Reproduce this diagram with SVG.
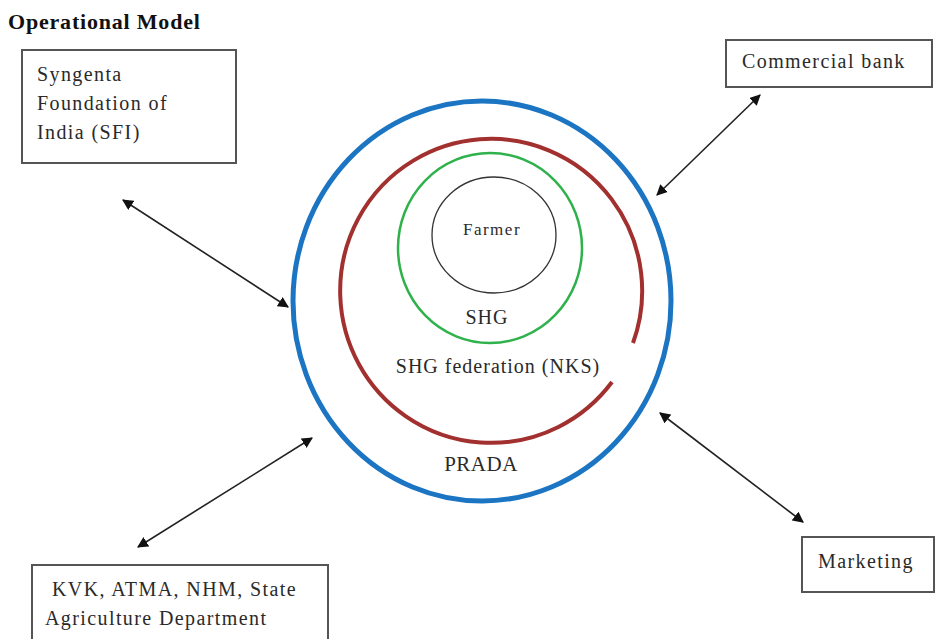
<svg xmlns="http://www.w3.org/2000/svg" width="937" height="639" viewBox="0 0 937 639">
<defs>
<marker id="ah" viewBox="0 0 10 10" refX="9" refY="5" markerWidth="11" markerHeight="11" markerUnits="userSpaceOnUse" orient="auto-start-reverse">
<path d="M0,0 L10,5 L0,10 z" fill="#111"/>
</marker>
</defs>
<style>
text{font-family:"Liberation Serif","DejaVu Serif",serif;fill:#2a2a2a}
.box{fill:#fff;stroke:#555;stroke-width:2}
.lbl{font-size:20px;letter-spacing:1.4px}
.c{text-anchor:middle}
.conn line{stroke:#222;stroke-width:1.6;marker-start:url(#ah);marker-end:url(#ah)}
</style>
<rect width="937" height="639" fill="#fff"/>
<text x="8" y="29" style="font-size:22px;font-weight:bold;letter-spacing:0.8px;fill:#111">Operational Model</text>
<g id="prada">
<ellipse cx="482" cy="301" rx="189" ry="200" fill="none" stroke="#1b75c2" stroke-width="5"/>
<text class="c" x="481" y="471" style="font-size:21px;letter-spacing:0.5px">PRADA</text>
</g>
<g id="nks">
<path d="M633,343 A151,152 0 1 0 612,382" fill="none" stroke="#a1302f" stroke-width="4"/>
<text class="c" x="498" y="373" style="font-size:20px;letter-spacing:1px">SHG federation (NKS)</text>
</g>
<g id="shg">
<ellipse cx="490" cy="248" rx="92" ry="95" fill="none" stroke="#2fb14b" stroke-width="2.5"/>
<text class="c" x="487" y="324" style="font-size:20px;letter-spacing:1px">SHG</text>
</g>
<g id="farmer">
<ellipse cx="494" cy="235" rx="62" ry="58" fill="none" stroke="#333" stroke-width="1.3"/>
<text class="c" x="492" y="235" style="font-size:17px;letter-spacing:1.5px">Farmer</text>
</g>
<g id="sfi">
<rect class="box" x="22" y="50" width="214" height="113"/>
<text class="lbl" x="37" y="81">Syngenta</text>
<text class="lbl" x="37" y="110">Foundation of</text>
<text class="lbl" x="37" y="139">India (SFI)</text>
</g>
<g id="bank">
<rect class="box" x="726" y="40" width="206" height="47"/>
<text class="lbl" x="742" y="68">Commercial bank</text>
</g>
<g id="marketing">
<rect class="box" x="802" y="537" width="132" height="55"/>
<text class="lbl" x="818" y="568">Marketing</text>
</g>
<g id="kvk">
<rect class="box" x="32" y="565" width="296" height="80"/>
<text class="lbl" x="52" y="596">KVK, ATMA, NHM, State</text>
<text class="lbl" x="45" y="625">Agriculture Department</text>
</g>
<g class="conn" id="connectors">
<line x1="123" y1="200" x2="288" y2="307"/>
<line x1="760" y1="95" x2="657" y2="195"/>
<line x1="138" y1="547" x2="312" y2="438"/>
<line x1="660" y1="413" x2="803" y2="522"/>
</g>
</svg>
